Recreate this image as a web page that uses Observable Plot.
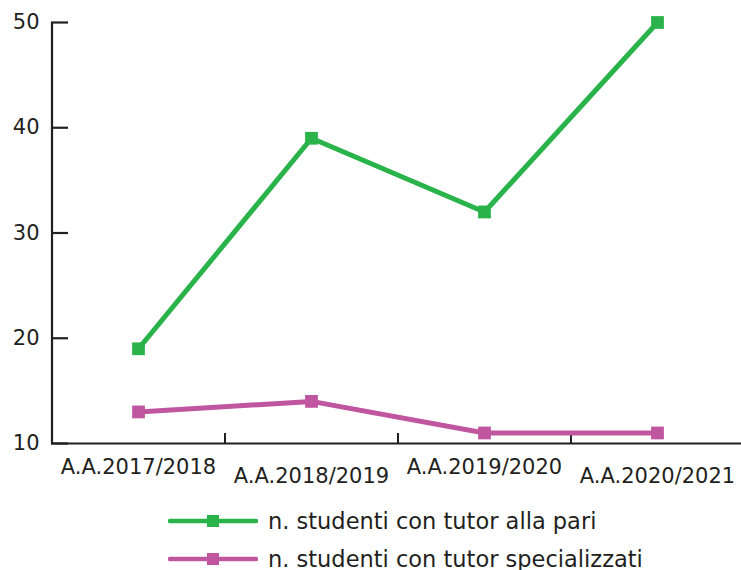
<!DOCTYPE html>
<html><head><meta charset="utf-8">
<script src="https://cdn.jsdelivr.net/npm/d3@7"></script>
<script src="https://cdn.jsdelivr.net/npm/@observablehq/plot@0.6"></script>
<style>
body{margin:0;background:#fff;font-family:"DejaVu Sans",sans-serif;color:#231f20;overflow:hidden;}
#legend{padding-top:7px;margin-left:168px;}
.row{display:flex;align-items:center;height:38px;font-size:22.5px;line-height:1.1;}
.row svg{margin-right:10px;}
</style></head><body><div id="chart"></div><div id="legend"></div>
<script>
const years = ["A.A.2017/2018","A.A.2018/2019","A.A.2019/2020","A.A.2020/2021"];
const tutorPari = [19,39,32,50];
const tutorSpec = [13,14,11,11];
const seriesNames = ["n. studenti con tutor alla pari","n. studenti con tutor specializzati"];
const colors = ["#29b34a","#c156a0"];
const yTicks = [10,20,30,40,50];

const data = [
  ...years.map((y,i)=>({i, year:y, value:tutorPari[i], s:seriesNames[0]})),
  ...years.map((y,i)=>({i, year:y, value:tutorSpec[i], s:seriesNames[1]}))
];
const labels = years.map((y,i)=>({i, label:y}));
const dividers = years.slice(1).map((y,i)=>i+0.5);
const ink = "#231f20";

const chart = Plot.plot({
  width: 741, height: 495,
  marginLeft: 51, marginRight: 0, marginTop: 22, marginBottom: 52,
  style: {fontFamily: "DejaVu Sans", fontSize: "21px", color: ink, background: "#fff"},
  x: {type: "linear", domain: [-0.5, 3.5], range: [51.5, 743.5], label: null},
  y: {domain: [10, 50], label: null},
  color: {domain: seriesNames, range: colors},
  marks: [
    Plot.ruleY([10], {stroke: ink, strokeWidth: 2.2}),
    Plot.ruleX([-0.5], {stroke: ink, strokeWidth: 2.2}),
    Plot.axisY({ticks: yTicks, label: null, tickSize: -17, tickPadding: 29, strokeWidth: 2.2, stroke: ink, fill: ink, fontSize: 21}),
    Plot.axisX({ticks: dividers, label: null, tickSize: -10, tickFormat: () => "", strokeWidth: 2, stroke: ink}),
    Plot.text(labels, {filter: d => d.i % 2 === 0, x: "i", y: () => 10, text: "label", dy: 24, fontSize: 21, fill: ink}),
    Plot.text(labels, {filter: d => d.i % 2 === 1, x: "i", y: () => 10, text: "label", dy: 33, fontSize: 21, fill: ink}),
    Plot.lineY(data, {x: "i", y: "value", stroke: "s", z: "s", strokeWidth: 5}),
    Plot.dot(data, {x: "i", y: "value", fill: "s", symbol: "square", r: 7.2})
  ]
});
document.getElementById("chart").appendChild(chart);

const legend = document.getElementById("legend");
seriesNames.forEach((name, k) => {
  const row = document.createElement("div");
  row.className = "row";
  row.innerHTML = `<svg width="90" height="20"><line x1="2" y1="10" x2="88" y2="10" stroke="${colors[k]}" stroke-width="4.5" stroke-linecap="round"/><rect x="39" y="4" width="12" height="12" fill="${colors[k]}"/></svg><span>${name}</span>`;
  legend.appendChild(row);
});
</script>
</body></html>
